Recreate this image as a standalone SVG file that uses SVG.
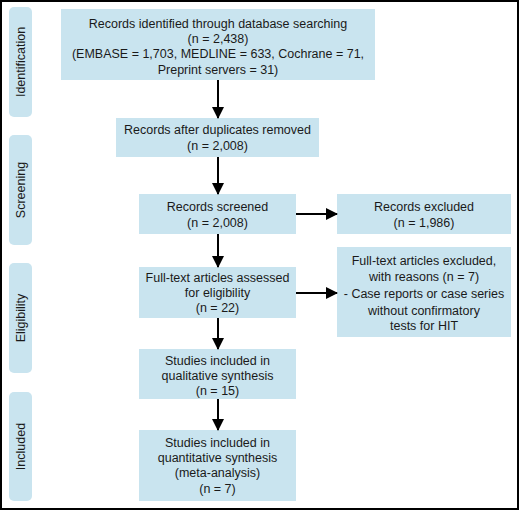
<svg xmlns="http://www.w3.org/2000/svg" width="520" height="511" viewBox="0 0 520 511">
<defs>
<marker id="ah" markerWidth="12" markerHeight="12" refX="11" refY="6" orient="auto" markerUnits="userSpaceOnUse">
<path d="M0,0 L12,6 L0,12 Z" fill="#000"/>
</marker>
<style>
.box{fill:#c9e4ef;}
.side{fill:#c9e4ef;}
text{font-family:"Liberation Sans",Arial,sans-serif;font-size:12.5px;fill:#1a1a1a;text-anchor:middle;}
.conn line{stroke:#000;stroke-width:2;}
</style>
</defs>
<rect x="1" y="1" width="517" height="508" fill="#fff" stroke="#000" stroke-width="2"/>
<g id="stage-identification"><rect class="side" x="9" y="7" width="23" height="110" rx="5"/><text transform="translate(25,62) rotate(-90)">Identification</text></g>
<g id="stage-screening"><rect class="side" x="9" y="135" width="23" height="110" rx="5"/><text transform="translate(25,190) rotate(-90)">Screening</text></g>
<g id="stage-eligibility"><rect class="side" x="9" y="263" width="23" height="110" rx="5"/><text transform="translate(25,318) rotate(-90)">Eligibility</text></g>
<g id="stage-included"><rect class="side" x="9" y="392" width="23" height="109" rx="5"/><text transform="translate(25,446.5) rotate(-90)">Included</text></g>
<g id="n-identified"><rect class="box" x="61" y="9" width="314" height="71"/>
<text x="218" y="28">Records identified through database searching</text>
<text x="218" y="43">(n = 2,438)</text>
<text x="218" y="58">(EMBASE = 1,703, MEDLINE = 633, Cochrane = 71,</text>
<text x="218" y="74">Preprint servers = 31)</text></g>
<g id="n-dedup"><rect class="box" x="116" y="118" width="203" height="39"/>
<text x="217.5" y="134">Records after duplicates removed</text>
<text x="217.5" y="150">(n = 2,008)</text></g>
<g id="n-screened"><rect class="box" x="139" y="194" width="157" height="40"/>
<text x="217.5" y="211">Records screened</text>
<text x="217.5" y="227">(n = 2,008)</text></g>
<g id="n-excluded"><rect class="box" x="337" y="194" width="174" height="40"/>
<text x="424" y="211">Records excluded</text>
<text x="424" y="227">(n = 1,986)</text></g>
<g id="n-fulltext"><rect class="box" x="139" y="267" width="157" height="51"/>
<text x="217.5" y="282">Full-text articles assessed</text>
<text x="217.5" y="297">for eligibility</text>
<text x="217.5" y="312">(n = 22)</text></g>
<g id="n-ftexcluded"><rect class="box" x="337" y="247" width="174" height="90"/>
<text x="424" y="265">Full-text articles excluded,</text>
<text x="424" y="281">with reasons (n = 7)</text>
<text x="424" y="298">- Case reports or case series</text>
<text x="424" y="315">without confirmatory</text>
<text x="424" y="330">tests for HIT</text></g>
<g id="n-qual"><rect class="box" x="139" y="349" width="157" height="50"/>
<text x="217.5" y="365">Studies included in</text>
<text x="217.5" y="380">qualitative synthesis</text>
<text x="217.5" y="395">(n = 15)</text></g>
<g id="n-quant"><rect class="box" x="139" y="430" width="157" height="71"/>
<text x="217.5" y="447">Studies included in</text>
<text x="217.5" y="462">quantitative synthesis</text>
<text x="217.5" y="477">(meta-analysis)</text>
<text x="217.5" y="493">(n = 7)</text></g>
<g class="conn" id="connectors">
<line x1="218" y1="80" x2="218" y2="118" marker-end="url(#ah)"/>
<line x1="218" y1="157" x2="218" y2="194" marker-end="url(#ah)"/>
<line x1="218" y1="234" x2="218" y2="267" marker-end="url(#ah)"/>
<line x1="218" y1="318" x2="218" y2="349" marker-end="url(#ah)"/>
<line x1="218" y1="399" x2="218" y2="430" marker-end="url(#ah)"/>
<line x1="296" y1="214" x2="337" y2="214" marker-end="url(#ah)"/>
<line x1="296" y1="293" x2="337" y2="293" marker-end="url(#ah)"/>
</g>
</svg>
